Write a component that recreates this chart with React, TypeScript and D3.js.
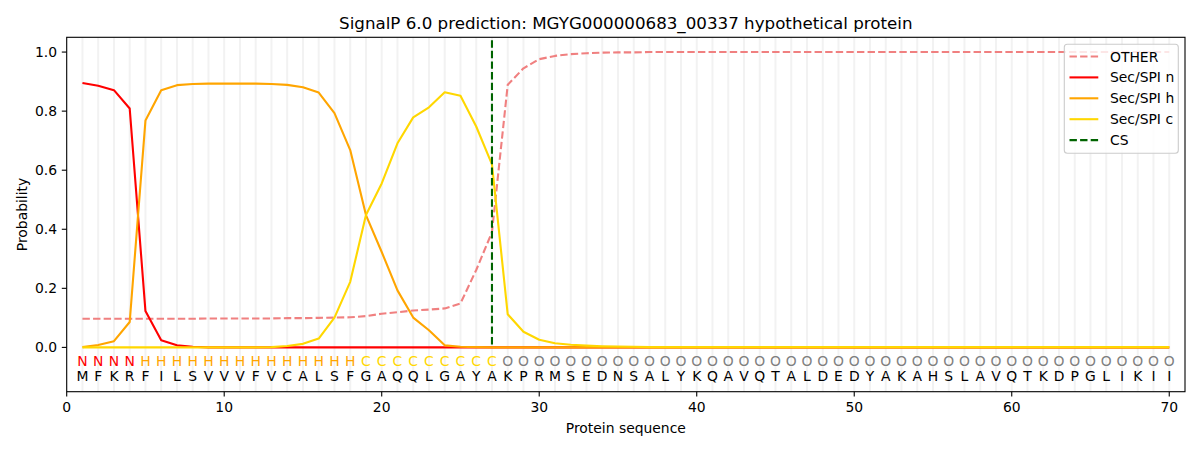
import React, { useRef, useEffect } from "react";
import * as d3 from "d3";

// residues and per-position predicted region
const sequence = "MFKRFILSVVVFVCALSFGAQQLGAYAKPRMSEDNSALYKQAVQTALDEDYAKAHSLAVQTKDPGLIKII".split("");
const regions = "NNNNHHHHHHHHHHHHHHCCCCCCCCCOOOOOOOOOOOOOOOOOOOOOOOOOOOOOOOOOOOOOOOOOOO".split("");

const otherProb = [
  0.097, 0.097, 0.097, 0.097, 0.097, 0.097, 0.097, 0.097, 0.098, 0.098,
  0.098, 0.098, 0.098, 0.099, 0.099, 0.1, 0.101, 0.102, 0.106, 0.114,
  0.119, 0.125, 0.128, 0.132, 0.149, 0.262, 0.39, 0.889, 0.945, 0.976,
  0.987, 0.993, 0.996, 0.998, 0.999, 0.999, 1, 1, 1, 1,
  1, 1, 1, 1, 1, 1, 1, 1, 1, 1,
  1, 1, 1, 1, 1, 1, 1, 1, 1, 1,
  1, 1, 1, 1, 1, 1, 1, 1, 1, 1,
];
const nProb = [
  0.895, 0.886, 0.871, 0.809, 0.123, 0.024, 0.007, 0.002, 0, 0,
  0, 0, 0, 0, 0, 0, 0, 0, 0, 0,
  0, 0, 0, 0, 0, 0, 0, 0, 0, 0,
  0, 0, 0, 0, 0, 0, 0, 0, 0, 0,
  0, 0, 0, 0, 0, 0, 0, 0, 0, 0,
  0, 0, 0, 0, 0, 0, 0, 0, 0, 0,
  0, 0, 0, 0, 0, 0, 0, 0, 0, 0,
];
const hProb = [
  0.001, 0.008, 0.021, 0.086, 0.768, 0.871, 0.888, 0.892, 0.893, 0.893,
  0.893, 0.893, 0.892, 0.889, 0.881, 0.863, 0.793, 0.668, 0.448, 0.323,
  0.193, 0.101, 0.058, 0.007, 0.002, 0.001, 0, 0, 0, 0,
  0, 0, 0, 0, 0, 0, 0, 0, 0, 0,
  0, 0, 0, 0, 0, 0, 0, 0, 0, 0,
  0, 0, 0, 0, 0, 0, 0, 0, 0, 0,
  0, 0, 0, 0, 0, 0, 0, 0, 0, 0,
];
const cProb = [
  0, 0, 0, 0, 0, 0, 0, 0, 0, 0,
  0, 0, 0.001, 0.005, 0.012, 0.03, 0.101, 0.222, 0.448, 0.555,
  0.691, 0.779, 0.813, 0.864, 0.852, 0.748, 0.62, 0.112, 0.053, 0.026,
  0.014, 0.009, 0.006, 0.004, 0.003, 0.002, 0.001, 0.001, 0.001, 0.001,
  0.001, 0.001, 0.001, 0.001, 0.001, 0.001, 0.001, 0.001, 0.001, 0.001,
  0.001, 0.001, 0.001, 0.001, 0.001, 0.001, 0.001, 0.001, 0.001, 0.001,
  0.001, 0.001, 0.001, 0.001, 0.001, 0.001, 0.001, 0.001, 0.001, 0.001,
];
const cleavageSite = 27;

const xTicks = [0, 10, 20, 30, 40, 50, 60, 70];
const yTicks = [0, 0.2, 0.4, 0.6, 0.8, 1.0];

const series = [
  { name: "OTHER", values: otherProb, color: "#f08080", dash: "7.4,3.2" },
  { name: "Sec/SPI n", values: nProb, color: "#ff0000", dash: null },
  { name: "Sec/SPI h", values: hProb, color: "#ffa500", dash: null },
  { name: "Sec/SPI c", values: cProb, color: "#ffd700", dash: null },
];
const regionColor: Record<string, string> = {
  N: "#ff0000",
  H: "#ffa500",
  C: "#ffd700",
  O: "#808080",
};

const FONT = "DejaVu Sans, sans-serif";

export default function App() {
  const ref = useRef<HTMLDivElement>(null);

  useEffect(() => {
    if (!ref.current) return;
    const container = d3.select(ref.current);
    container.selectAll("*").remove();

    const W = 1200;
    const H = 450;
    const left = 66.7, right = 1185, top = 37.3, bottom = 391.7;

    const svg = container
      .append("svg")
      .attr("width", W)
      .attr("height", H)
      .style("position", "absolute")
      .style("left", "0px")
      .style("top", "0px")
      .style("background", "#fff")
      .attr("font-family", FONT);

    const x = d3.scaleLinear().domain([0, 71]).range([left, right]);
    const y = d3.scaleLinear().domain([-0.15, 1.05]).range([bottom, top]);

    // residue grid lines
    svg
      .append("g")
      .selectAll("line")
      .data(sequence.map((_, i) => i + 1))
      .enter()
      .append("line")
      .attr("x1", (d) => x(d))
      .attr("x2", (d) => x(d))
      .attr("y1", top)
      .attr("y2", bottom)
      .attr("stroke", "#f2f2f2")
      .attr("stroke-width", 2);

    // region labels + residues
    const seqG = svg.append("g").attr("font-size", 13.9).attr("text-anchor", "middle");
    seqG
      .selectAll("text.reg")
      .data(regions)
      .enter()
      .append("text")
      .attr("class", "reg")
      .attr("x", (_, i) => x(i + 1))
      .attr("y", y(-0.047))
      .attr("dy", "0.36em")
      .attr("fill", (d) => regionColor[d])
      .text((d) => d);
    seqG
      .selectAll("text.res")
      .data(sequence)
      .enter()
      .append("text")
      .attr("class", "res")
      .attr("x", (_, i) => x(i + 1))
      .attr("y", y(-0.098))
      .attr("dy", "0.36em")
      .attr("fill", "#000")
      .text((d) => d);

    // probability lines
    const line = d3
      .line<number>()
      .x((_, i) => x(i + 1))
      .y((d) => y(d));
    series.forEach((s) => {
      const p = svg
        .append("path")
        .datum(s.values)
        .attr("d", line)
        .attr("fill", "none")
        .attr("stroke", s.color)
        .attr("stroke-width", 2.1)
        .attr("stroke-linejoin", "round");
      if (s.dash) p.attr("stroke-dasharray", s.dash);
    });

    // cleavage site
    svg
      .append("line")
      .attr("x1", x(cleavageSite))
      .attr("x2", x(cleavageSite))
      .attr("y1", y(1.04))
      .attr("y2", y(0))
      .attr("stroke", "#006400")
      .attr("stroke-width", 2.1)
      .attr("stroke-dasharray", "7.4,3.2");

    // frame
    svg
      .append("rect")
      .attr("x", left)
      .attr("y", top)
      .attr("width", right - left)
      .attr("height", bottom - top)
      .attr("fill", "none")
      .attr("stroke", "#000")
      .attr("stroke-width", 1.1);

    // x axis
    const xg = svg.append("g").attr("font-size", 13.9).attr("text-anchor", "middle");
    xTicks.forEach((t) => {
      xg.append("line")
        .attr("x1", x(t)).attr("x2", x(t))
        .attr("y1", bottom).attr("y2", bottom + 4.9)
        .attr("stroke", "#000").attr("stroke-width", 1.1);
      xg.append("text")
        .attr("x", x(t))
        .attr("y", bottom + 9.7)
        .attr("dy", "0.76em")
        .text(t);
    });
    svg
      .append("text")
      .attr("x", (left + right) / 2)
      .attr("y", 433)
      .attr("text-anchor", "middle")
      .attr("font-size", 13.9)
      .text("Protein sequence");

    // y axis
    const yg = svg.append("g").attr("font-size", 13.9).attr("text-anchor", "end");
    yTicks.forEach((t) => {
      yg.append("line")
        .attr("x1", left - 4.9).attr("x2", left)
        .attr("y1", y(t)).attr("y2", y(t))
        .attr("stroke", "#000").attr("stroke-width", 1.1);
      yg.append("text")
        .attr("x", left - 9.7)
        .attr("y", y(t))
        .attr("dy", "0.36em")
        .text(t.toFixed(1));
    });
    svg
      .append("text")
      .attr("transform", `translate(26.5,${(top + bottom) / 2}) rotate(-90)`)
      .attr("text-anchor", "middle")
      .attr("font-size", 13.9)
      .text("Probability");

    // title
    svg
      .append("text")
      .attr("x", (left + right) / 2)
      .attr("y", 29)
      .attr("text-anchor", "middle")
      .attr("font-size", 16.7)
      .text("SignalP 6.0 prediction: MGYG000000683_00337 hypothetical protein");

    // legend
    const lg = svg.append("g");
    lg.append("rect")
      .attr("x", 1064.3)
      .attr("y", 44.3)
      .attr("width", 114)
      .attr("height", 109)
      .attr("rx", 3)
      .attr("fill", "#fff")
      .attr("fill-opacity", 0.8)
      .attr("stroke", "#cccccc")
      .attr("stroke-width", 1.1);
    const entries = [
      ...series.map((s) => ({ name: s.name, color: s.color, dash: s.dash })),
      { name: "CS", color: "#006400", dash: "7.4,3.2" },
    ];
    entries.forEach((e, i) => {
      const cy = 56.5 + i * 20.9;
      const l = lg
        .append("line")
        .attr("x1", 1069.5)
        .attr("x2", 1098.3)
        .attr("y1", cy)
        .attr("y2", cy)
        .attr("stroke", e.color)
        .attr("stroke-width", 2.1);
      if (e.dash) l.attr("stroke-dasharray", e.dash);
      lg.append("text")
        .attr("x", 1110)
        .attr("y", cy)
        .attr("dy", "0.36em")
        .attr("font-size", 13.9)
        .text(e.name);
    });
  }, []);

  return <div ref={ref} />;
}
